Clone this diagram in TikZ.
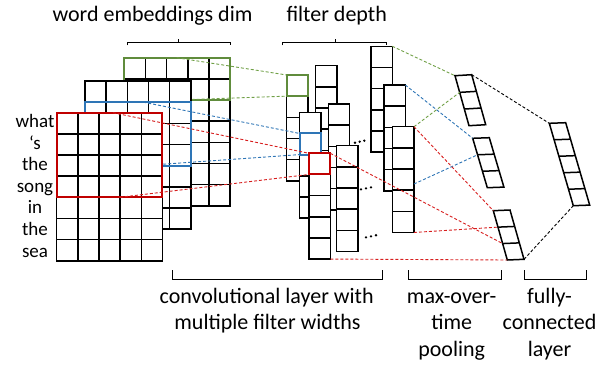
\documentclass[tikz,border=0pt]{standalone}
\usepackage{fontspec}
\setmainfont{Carlito}
\usetikzlibrary{calc}

\definecolor{cgreen}{RGB}{96,140,60}
\definecolor{lgreen}{RGB}{112,160,70}
\definecolor{cblue}{RGB}{46,117,182}
\definecolor{cred}{RGB}{192,0,0}
\definecolor{lred}{RGB}{215,30,30}

\tikzset{
  cell/.style={draw=black, fill=white, line width=1.5pt},
  hlbox/.style={line width=2pt},
  link/.style={line width=0.9pt, dash pattern=on 3pt off 2pt},
  brk/.style={line width=0.9pt},
  lbl/.style={font=\fontsize{22}{26.5}\selectfont, anchor=base, inner sep=0pt},
  word/.style={font=\fontsize{19}{22}\selectfont, anchor=base, inner sep=0pt},
  dot/.style={fill=black},
}

% cell size of the input matrices and filter columns
\def\cs{21.15}
\def\cw{21.3}

% input matrix: 5 columns x 7 rows, top-left corner at (x,y)
\newcommand\inlayer[2]{%
  \filldraw[cell] (#1,#2) rectangle ++({5*\cs},{7*\cs});
  \foreach \i in {1,...,4} \draw[cell] ({#1+\i*\cs},#2) -- ++(0,{7*\cs});
  \foreach \j in {1,...,6} \draw[cell] (#1,{#2+\j*\cs}) -- ++({5*\cs},0);
}

% feature-map column of five cells, with named corners
\newcommand\convcol[3]{%
  \filldraw[cell] (#2,#3) rectangle ++(\cw,{5*\cs});
  \foreach \j in {1,...,4} \draw[cell] (#2,{#3+\j*\cs}) -- ++(\cw,0);
  \coordinate (#1-tl) at (#2,#3);
  \coordinate (#1-tr) at ({#2+\cw},#3);
  \coordinate (#1-bl) at (#2,{#3+5*\cs});
  \coordinate (#1-br) at ({#2+\cw},{#3+5*\cs});
}

% slanted vector: name, origin x, y, width vector, down vector, cells, inner indices
\newcommand\vecbox[9]{%
  \coordinate (#1-tl) at (#2,#3);
  \coordinate (#1-tr) at ($(#1-tl)+(#4,#5)$);
  \coordinate (#1-bl) at ($(#1-tl)+(#6,#7)$);
  \coordinate (#1-br) at ($(#1-bl)+(#4,#5)$);
  \filldraw[cell] (#1-tl) -- (#1-tr) -- (#1-br) -- (#1-bl) -- cycle;
  \foreach \k in {#9} {
    \coordinate (#1-l\k) at ($(#1-tl)!{\k/#8}!(#1-bl)$);
    \draw[cell] (#1-l\k) -- ($(#1-tr)!{\k/#8}!(#1-br)$);
  }
}

\begin{document}
\begin{tikzpicture}[x=1pt,y=-1pt]
\useasboundingbox (0,0) rectangle (611,365);

% ---- convolutional layer: second filters, then first filters
\convcol{c4}{315.7}{65.7}
\convcol{c5}{328.3}{104}
\convcol{c6}{336.7}{145.7}
\convcol{c1}{286.7}{75}
\draw[hlbox, cgreen] (c1-tl) rectangle ++(\cw,\cs);
\convcol{c2}{299.5}{112.3}
\draw[hlbox, cblue] ($(c2-tl)+(0,\cs)$) rectangle ++(\cw,\cs);
\convcol{c3}{309}{153.3}
\draw[hlbox, cred] (c3-tl) rectangle ++(\cw,\cs);
\coordinate (g1) at ($(c1-tl)+(0,\cs)$);
\coordinate (b1) at ($(c2-tl)+(0,\cs)$);
\coordinate (b2) at ($(c2-tl)+(0,2*\cs)$);
\coordinate (r1) at ($(c3-tl)+(0,\cs)$);

% last filters
\convcol{c7}{371}{46.3}
\convcol{c8}{384}{85}
\convcol{c9}{392.7}{126.7}

% ellipses between filters
\foreach \p in {(355,142.7),(359.7,141.7),(364.3,140.7),
                (361,189.3),(366,188.3),(371,187.3),
                (366,237.3),(371,236.3),(376,235.2)}
  \fill[dot] \p circle (1.3);

% ---- max-over-time pooling and fully-connected vectors
\vecbox{p1}{455}{75.7}{16.7}{-1}{14}{50}{3}{1,2}
\vecbox{p2}{472.7}{138.3}{16.6}{-0.6}{14.6}{49.4}{3}{1,2}
\vecbox{p3}{493.3}{210.7}{16.7}{-0.7}{14}{49.3}{3}{1,2}
\vecbox{fc}{549.3}{123.3}{16.4}{-0.6}{24}{82.4}{5}{1,2,3,4}

% ---- pooling connections
\coordinate (c9m) at (414,184);
\draw[link, lgreen] (c7-tr) -- (p1-tl);
\draw[link, lgreen] (c9-tr) -- (p1-l1);
\draw[link, cblue] (c8-tr) -- (p2-tl);
\draw[link, cblue] (c9m) -- (p2-l1);
\draw[link, lred] (c9-tr) -- (p3-tl);
\draw[link, lred] (c3-tr) -- (p3-l2);
\draw[link, lred] (c9-br) -- (p3-l1);
\draw[link, lred] (c3-br) -- (p3-bl);
\draw[link, black] (p1-tr) -- (fc-tl);
\draw[link, black] (p3-br) -- (fc-bl);

% ---- input matrices with their filter windows
\inlayer{124.3}{57.7}
\draw[hlbox, cgreen] (124.3,57.7) rectangle ++({5*\cs},{2*\cs});
\coordinate (gs1) at (176.7,57.7);
\coordinate (gs2) at (176.7,{57.7+2*\cs});
\draw[link, lgreen] (gs1) -- (c1-tl);
\draw[link, lgreen] (gs2) -- (g1);

\inlayer{85}{81}
\draw[hlbox, cblue] (85,{81+\cs}) rectangle ++({5*\cs},{3*\cs});
\coordinate (bs1) at (143.3,{81+\cs});
\coordinate (bs2) at (143.3,{81+4*\cs});
\draw[link, cblue] (bs1) -- (b1);
\draw[link, cblue] (bs2) -- (b2);

\inlayer{56.7}{112.7}
\draw[hlbox, cred] (56.7,112.7) rectangle ++({5*\cs},{4*\cs});
\coordinate (rs1) at (113,112.7);
\coordinate (rs2) at (120,{112.7+4*\cs});
\draw[link, lred] (rs1) -- (c3-tl);
\draw[link, lred] (rs2) -- (r1);

% ---- sentence
\foreach \w [count=\n from 0] in {what,‘s,the,song,in,the,sea}
  \node[word] (w\n) at (35,{127.5+21.6*\n}) {\w};

% ---- braces and captions
\draw[brk] (127.3,45.3) -- (127.3,42.7) -- (230.7,42.7) -- (230.7,45.3);
\draw[brk] (178.3,42.7) -- (178.3,39.3);
\draw[brk] (282.7,45.3) -- (282.7,42.7) -- (386.7,42.7) -- (386.7,45.3);
\draw[brk] (335,42.7) -- (335,39.3);
\node[lbl] (wed) at (152.5,21.7) {word embeddings dim};
\node[lbl] (fdp) at (336.7,21.7) {filter depth};

\draw[brk] (172.7,270) -- (172.7,279) -- (382.7,279) -- (382.7,270);
\draw[brk] (408.3,270) -- (408.3,279) -- (501.7,279) -- (501.7,270);
\draw[brk] (524,270) -- (524,279) -- (586,279) -- (586,270);

\node[lbl] (cv1) at (266.7,303.3) {convolutional layer with};
\node[lbl] (cv2) at (267.5,329.8) {multiple filter widths};
\node[lbl] (mp1) at (451.7,303.3) {max-over-};
\node[lbl] (mp2) at (451.7,329.8) {time};
\node[lbl] (mp3) at (451.7,356.3) {pooling};
\node[lbl] (fc1) at (549.5,303.3) {fully-};
\node[lbl] (fc2) at (549.5,329.8) {connected};
\node[lbl] (fc3) at (549.5,356.3) {layer};
\end{tikzpicture}
\end{document}
